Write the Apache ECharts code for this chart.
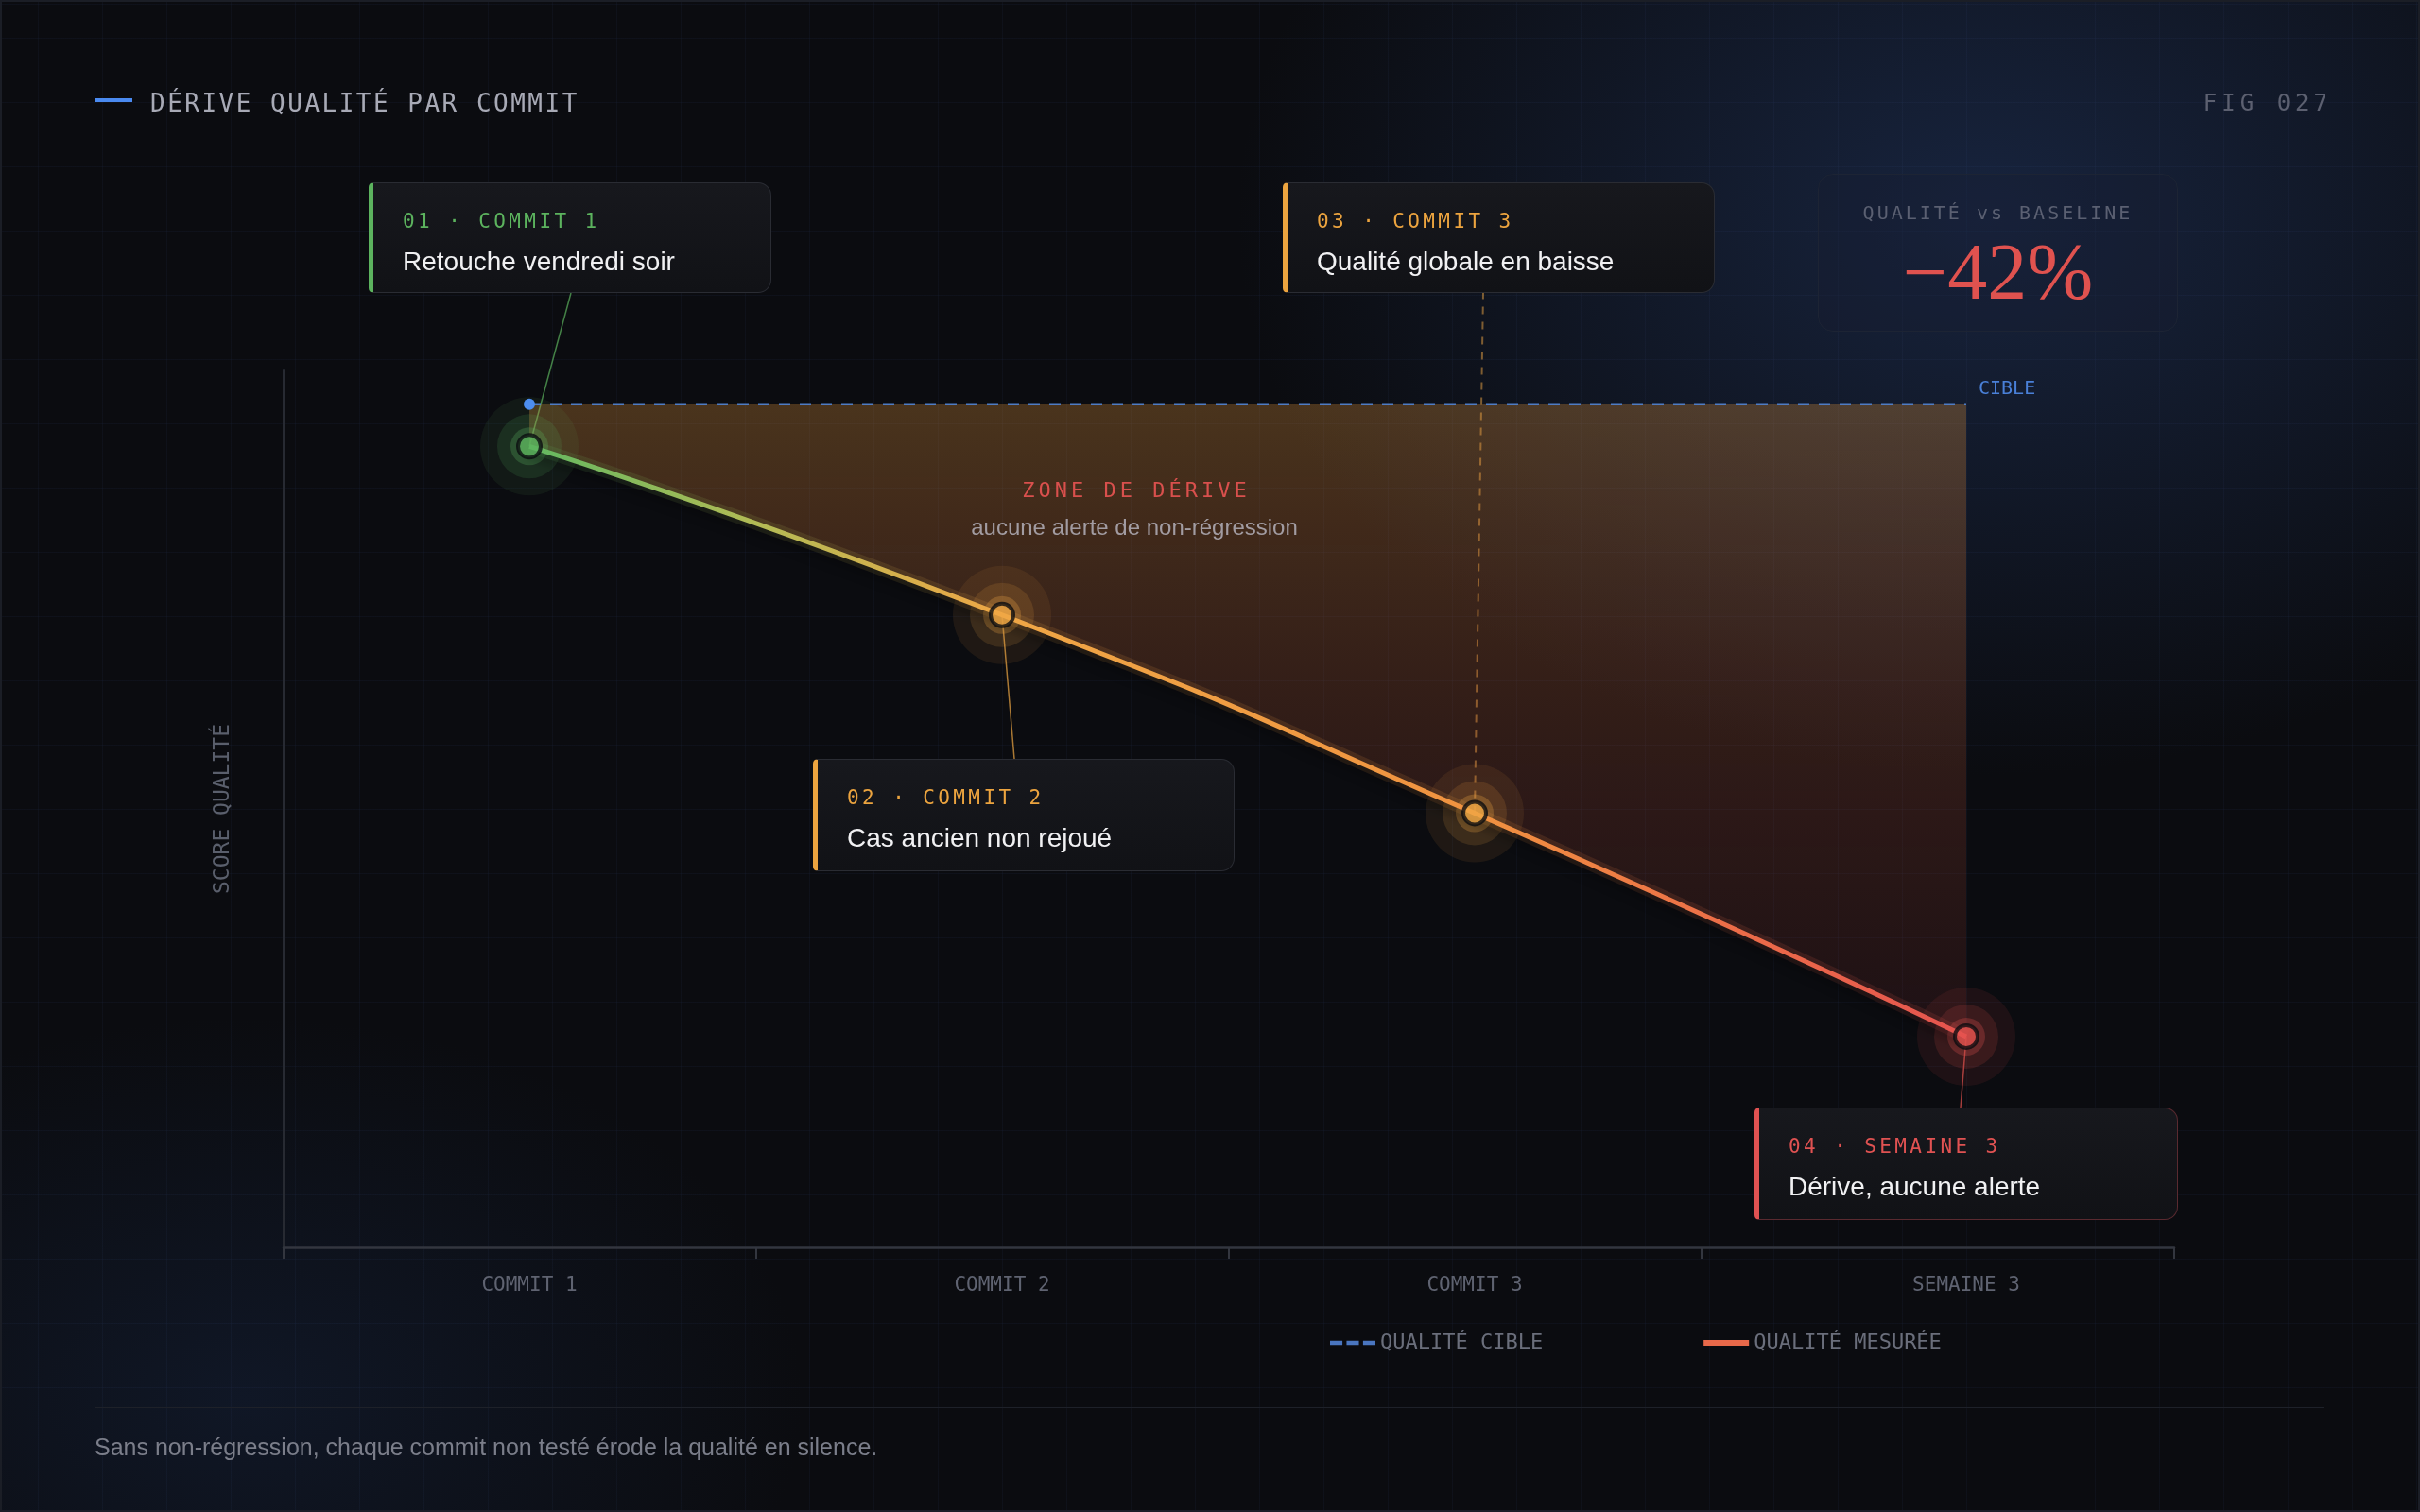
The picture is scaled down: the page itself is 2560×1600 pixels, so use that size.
<!DOCTYPE html>
<html lang="fr">
<head>
<meta charset="utf-8">
<title>Dérive qualité par commit</title>
<script src="https://cdn.jsdelivr.net/npm/echarts@6/dist/echarts.min.js"></script>
<style>
  html, body { margin: 0; padding: 0; width: 2560px; height: 1600px; overflow: hidden; background: #0b0c10; }
  #page {
    position: relative; width: 2560px; height: 1600px; overflow: hidden;
    background:
      repeating-linear-gradient(180deg, rgba(70, 95, 160, 0.07) 0 1px, transparent 1px 68px),
      repeating-linear-gradient(90deg, rgba(70, 95, 160, 0.07) 0 1px, transparent 1px 68px),
      radial-gradient(ellipse 1100px 820px at 2100px 230px, rgba(28, 45, 80, 0.72), transparent 72%),
      radial-gradient(ellipse 820px 560px at 260px 1480px, rgba(20, 32, 56, 0.55), transparent 72%),
      #0b0c10;
    background-position: 40px 40px, 40px 40px, 0 0, 0 0, 0 0;
    box-shadow: inset 0 0 0 2px #1b1e26;
  }
  #chart { position: absolute; left: 0; top: 0; width: 2560px; height: 1600px; }
  .abs { position: absolute; white-space: nowrap; z-index: 2; }
  .mono { font-family: 'DejaVu Sans Mono', monospace; }
  .sans { font-family: 'Liberation Sans', Arial, sans-serif; }

  .card {
    position: absolute; box-sizing: border-box; z-index: 3;
    border: 1.5px solid #2a2c33; border-left: 5px solid;
    border-radius: 5px 14px 14px 5px;
    background: linear-gradient(180deg, #17181d, #111216);
  }
  .card .tag {
    position: absolute; left: 31px; top: 27px; white-space: nowrap;
    font: 21px/26px 'DejaVu Sans Mono', monospace; letter-spacing: 3.4px;
  }
  .card .txt {
    position: absolute; left: 31px; top: 65px; white-space: nowrap;
    font: 28px/36px 'Liberation Sans', Arial, sans-serif; color: #f1f1f3;
  }
  .green  { border-left-color: #5cb35e; }
  .green .tag { color: #5cb35e; }
  .orange { border-left-color: #eca43f; }
  .orange .tag { color: #eca43f; }
  .red    { border-color: #5a2a30; border-left-color: #e05252; }
  .red .tag { color: #e05252; }

  .kpi {
    position: absolute; box-sizing: border-box; z-index: 2;
    border: 1.5px solid #1d2434; border-radius: 16px;
    background: rgba(22, 30, 48, 0.35);
  }
</style>
</head>
<body>
<div id="page">
  <div id="chart"></div>

  <!-- header -->
  <div class="abs" style="left:100px;top:104px;width:40px;height:4px;background:#4a8af0;"></div>
  <div class="abs mono" style="left:159px;top:93px;font-size:26px;line-height:32px;letter-spacing:2.5px;color:#a8aab6;">DÉRIVE QUALITÉ PAR COMMIT</div>
  <div class="abs mono" style="right:93px;top:94px;font-size:24px;line-height:30px;letter-spacing:5px;color:#5c6070;">FIG 027</div>

  <!-- annotation cards -->
  <div class="card green" style="left:390px;top:193px;width:426px;height:117px;">
    <div class="tag">01 · COMMIT 1</div>
    <div class="txt">Retouche vendredi soir</div>
  </div>
  <div class="card orange" style="left:860px;top:803px;width:446px;height:119px;">
    <div class="tag">02 · COMMIT 2</div>
    <div class="txt">Cas ancien non rejoué</div>
  </div>
  <div class="card orange" style="left:1357px;top:193px;width:457px;height:117px;">
    <div class="tag">03 · COMMIT 3</div>
    <div class="txt">Qualité globale en baisse</div>
  </div>
  <div class="card red" style="left:1856px;top:1172px;width:448px;height:119px;">
    <div class="tag">04 · SEMAINE 3</div>
    <div class="txt">Dérive, aucune alerte</div>
  </div>

  <!-- KPI -->
  <div class="kpi" style="left:1923px;top:184px;width:381px;height:167px;">
    <div class="abs mono" style="left:0;right:0;top:27px;text-align:center;font-size:20px;line-height:26px;letter-spacing:3px;color:#5b6072;">QUALITÉ vs BASELINE</div>
    <div class="abs" style="left:0;right:0;top:55px;text-align:center;font-family:'Liberation Serif',serif;font-size:84px;line-height:96px;color:#e0524f;">−42%</div>
  </div>

  <!-- drift zone caption -->
  <div class="abs mono" style="left:1202px;top:505px;transform:translateX(-50%);font-size:22px;line-height:28px;letter-spacing:4px;color:#d9504d;">ZONE DE DÉRIVE</div>
  <div class="abs sans" style="left:1200px;top:543px;transform:translateX(-50%);font-size:24px;line-height:30px;color:#a29ca2;">aucune alerte de non-régression</div>

  <!-- footer -->
  <div class="abs" style="left:100px;top:1489px;width:2358px;height:1px;background:#1e2129;"></div>
  <div class="abs sans" style="left:100px;top:1516px;font-size:25px;line-height:30px;color:#7b7e8a;">Sans non-régression, chaque commit non testé érode la qualité en silence.</div>
</div>

<script>
// données
const categories = ['COMMIT 1', 'COMMIT 2', 'COMMIT 3', 'SEMAINE 3'];
const xPos = [0.52, 1.52, 2.52, 3.56];
const measured = [95, 75, 51.5, 25];
const target = [100, 100, 100, 100];
const legendNames = ['QUALITÉ CIBLE', 'QUALITÉ MESURÉE'];

const mono = "'DejaVu Sans Mono', monospace";
const pointColors = ['#5cb35e', '#f0a845', '#f0a845', '#e5534f'];
const SMOOTH = 0.6;

function rgba(hex, a) {
  const n = parseInt(hex.slice(1), 16);
  return `rgba(${(n >> 16) & 255}, ${(n >> 8) & 255}, ${n & 255}, ${a})`;
}

const lineGradient = () => new echarts.graphic.LinearGradient(0, 0, 1, 0, [
  { offset: 0, color: '#62b861' },
  { offset: 0.16, color: '#b3bb55' },
  { offset: 0.33, color: '#efa746' },
  { offset: 0.66, color: '#f09240' },
  { offset: 0.83, color: '#ec6e48' },
  { offset: 1, color: '#e5534f' },
]);

const pts = (vals) => xPos.map((x, i) => [x, vals[i]]);

const halo = (size, alpha) => ({
  type: 'scatter',
  name: 'halo',
  silent: true,
  z: 3,
  symbolSize: size,
  data: xPos.map((x, i) => ({
    value: [x, measured[i]],
    itemStyle: { color: rgba(pointColors[i], alpha) },
  })),
});

const chart = echarts.init(document.getElementById('chart'), null, { renderer: 'canvas' });

chart.setOption({
  backgroundColor: 'transparent',
  animation: false,
  // grille 2 : même échelle, mais son bord haut = la cible, pour remplir la zone de dérive
  grid: [
    { left: 300, right: 260, top: 392, bottom: 280 },
    { left: 300, right: 260, top: 428, bottom: 280 },
  ],
  xAxis: [
    {
      type: 'value',
      min: 0,
      max: 4,
      interval: 1,
      axisLine: { show: true, lineStyle: { color: '#33363f', width: 2.5 } },
      axisTick: { show: true, length: 12, lineStyle: { color: '#33363f', width: 2 } },
      splitLine: { show: false },
      axisLabel: {
        customValues: xPos,
        formatter: v => categories[xPos.indexOf(v)] || '',
        margin: 30,
        color: '#5f6371',
        fontFamily: mono,
        fontSize: 21,
      },
    },
    { type: 'value', gridIndex: 1, min: 0, max: 4, show: false },
  ],
  yAxis: [
    {
      type: 'value',
      min: 0,
      max: 104,
      name: 'SCORE QUALITÉ',
      nameLocation: 'middle',
      nameGap: 52,
      nameRotate: 90,
      nameTextStyle: { color: '#5a5f6c', fontFamily: mono, fontSize: 23 },
      axisLine: { show: true, lineStyle: { color: '#272a32', width: 2 } },
      axisTick: { show: false },
      axisLabel: { show: false },
      splitLine: { show: false },
    },
    { type: 'value', gridIndex: 1, min: 0, max: 100, show: false, splitLine: { show: false } },
  ],
  legend: {
    left: 1402,
    top: 1405,
    itemWidth: 48,
    itemHeight: 6,
    itemGap: 170,
    selectedMode: false,
    textStyle: { color: '#6a6e7b', fontFamily: mono, fontSize: 22 },
    data: [
      {
        name: legendNames[0],
        icon: 'path://M0,0h12v4h-12zM16,0h12v4h-12zM32,0h12v4h-12z',
        itemStyle: { color: '#4a76c0' },
      },
      { name: legendNames[1], icon: 'rect', itemStyle: { color: '#e8694a' } },
    ],
  },
  series: [
    // zone de dérive : de la mesure jusqu'à la cible
    {
      type: 'line',
      name: 'drift',
      xAxisIndex: 1,
      yAxisIndex: 1,
      smooth: SMOOTH,
      symbol: 'none',
      silent: true,
      z: 1,
      lineStyle: { width: 0, opacity: 0 },
      areaStyle: {
        origin: 'end',
        color: new echarts.graphic.LinearGradient(0, 0, 0, 1, [
          { offset: 0, color: 'rgba(228, 150, 60, 0.42)' },
          { offset: 0.45, color: 'rgba(205, 100, 55, 0.3)' },
          { offset: 1, color: 'rgba(185, 60, 60, 0.16)' },
        ]),
      },
      data: pts(measured),
    },
    // cible
    {
      type: 'line',
      name: legendNames[0],
      symbol: 'circle',
      silent: true,
      z: 5,
      itemStyle: { color: '#4d8ef0' },
      lineStyle: { color: '#4f7cc4', width: 2.5, type: [12, 10] },
      data: xPos.map((x, i) => ({ value: [x, target[i]], symbolSize: i === 0 ? 12 : 0 })),
      endLabel: {
        show: true,
        formatter: 'CIBLE',
        color: '#4a80d8',
        fontFamily: mono,
        fontSize: 20,
        offset: [5, -16],
      },
    },
    // halo large sous la courbe
    {
      type: 'line',
      name: 'glow',
      smooth: SMOOTH,
      symbol: 'none',
      silent: true,
      z: 2,
      lineStyle: { width: 14, color: lineGradient(), opacity: 0.14 },
      data: pts(measured),
    },
    halo(104, 0.11),
    halo(68, 0.18),
    halo(40, 0.34),
    // qualité mesurée
    {
      type: 'line',
      name: legendNames[1],
      smooth: SMOOTH,
      symbol: 'none',
      silent: true,
      z: 4,
      lineStyle: {
        width: 5,
        color: lineGradient(),
        shadowColor: 'rgba(0, 0, 0, 0.55)',
        shadowBlur: 12,
        shadowOffsetY: 7,
      },
      data: pts(measured),
    },
    // points
    {
      type: 'scatter',
      name: 'points',
      silent: true,
      z: 6,
      symbolSize: 24,
      data: xPos.map((x, i) => ({
        value: [x, measured[i]],
        itemStyle: { color: pointColors[i], borderColor: '#0b0c10', borderWidth: 4 },
      })),
    },
  ],
});

// traits de rappel vers les cartes
const cardAnchors = [[604, 310], [1073, 803], [1569, 310], [2074, 1172]];
const leaders = xPos.map((x, i) => {
  const p = chart.convertToPixel({ gridIndex: 0 }, [x, measured[i]]);
  return {
    type: 'line',
    z: 0,
    silent: true,
    shape: { x1: p[0], y1: p[1], x2: cardAnchors[i][0], y2: cardAnchors[i][1] },
    style: {
      stroke: rgba(pointColors[i], i === 2 ? 0.5 : 0.7),
      lineWidth: i === 2 ? 2 : 1.5,
      lineDash: i === 2 ? [8, 8] : null,
    },
  };
});
chart.setOption({ graphic: { elements: leaders } });
</script>
</body>
</html>
